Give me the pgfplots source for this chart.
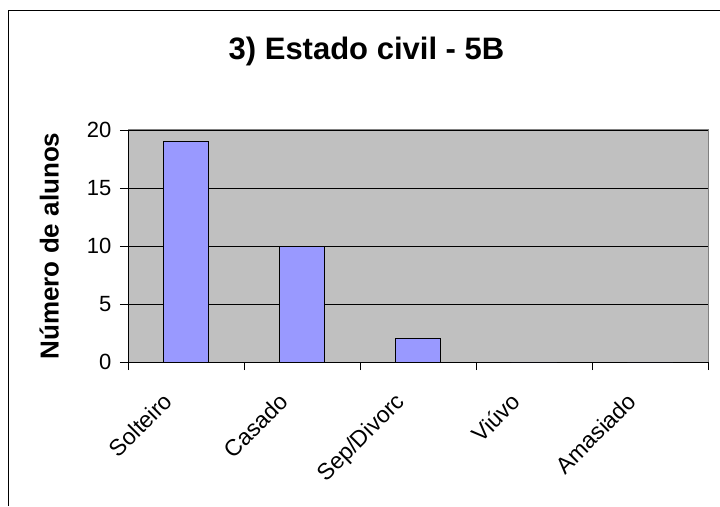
\documentclass[border=0pt]{standalone}
\usepackage{pgfplots}
\pgfplotsset{compat=1.18}
\usepackage{fontspec}
\setmainfont{Liberation Sans}
\definecolor{plotbg}{HTML}{C0C0C0}
\definecolor{barfill}{HTML}{9999FF}
\definecolor{plotborder}{HTML}{808080}
\begin{document}
\begin{tikzpicture}[x=1pt,y=1pt]
\useasboundingbox (0,0) rectangle (720,506);
\draw[black, line width=1pt] (8,0) -- (8,495.5) -- (720,495.5);
\node[anchor=base, font=\fontsize{31}{36}\selectfont\bfseries] at (366.5,446) {3) Estado civil - 5B};
\begin{axis}[
  at={(128pt,144pt)}, anchor=south west,
  scale only axis, width=580pt, height=232pt,
  xmin=-0.5, xmax=4.5, ymin=0, ymax=20,
  axis background/.style={fill=plotbg, draw=plotborder, line width=1pt},
  axis x line*=bottom, axis y line*=left,
  axis line style={black, line width=0.8pt, -},
  ytick={0,5,10,15,20},
  ymajorgrids, grid style={black, line width=0.8pt},
  xtick={-0.5,0.5,...,4.5},
  xticklabels={Solteiro,Casado,Sep/Divorc,Viúvo,Amasiado},
  x tick label as interval,
  tick align=outside, major tick length=8pt,
  tick style={black, line width=0.8pt},
  /pgf/number format/assume math mode=true,
  yticklabel style={font=\fontsize{22}{26}\selectfont, xshift=-5pt},
  xticklabel style={font=\fontsize{23}{27}\selectfont, xshift=-24pt, yshift=-21pt, rotate=45, anchor=north east, inner sep=0pt},
  ylabel={Número de alunos},
  ylabel style={at={(axis description cs:-0.136,0.5)}, anchor=center, font=\fontsize{26}{30}\selectfont\bfseries},
]
\addplot[ybar, bar width=45pt, fill=barfill, draw=black, line width=1pt]
  coordinates {(0,19) (1,10) (2,2) (3,0) (4,0)};
\end{axis}
\end{tikzpicture}
\end{document}
